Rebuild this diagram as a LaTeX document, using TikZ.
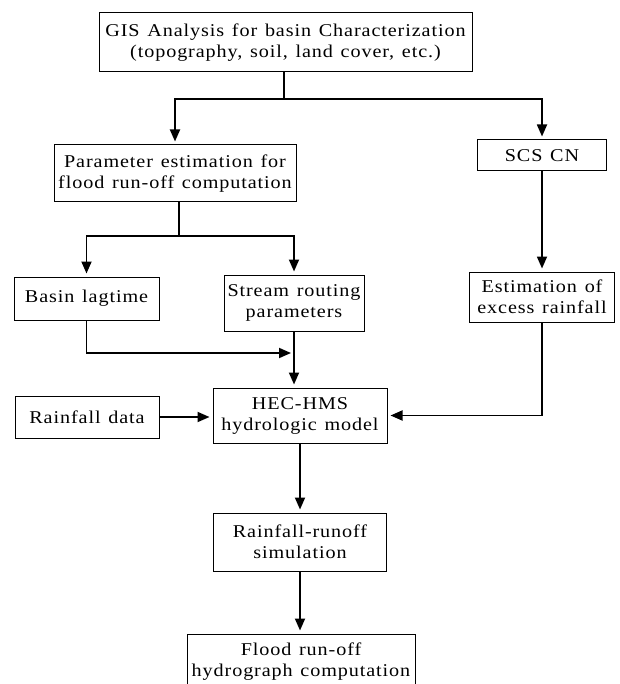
\documentclass[tikz,border=0pt]{standalone}
\usepackage{fontspec}
\setmainfont{Liberation Serif}[FakeStretch=1.12, LetterSpace=5, WordSpace=1.3]
\usetikzlibrary{arrows.meta,calc}
\begin{document}
\begin{tikzpicture}[x=1pt,y=-1pt,
  box/.style={draw, line width=1pt, inner sep=0pt, align=center,
    font=\fontsize{18}{21}\selectfont},
  conn/.style={line width=1.8pt},
  arr/.style={line width=1.8pt, -{Triangle[length=12pt,width=10pt]}, shorten >=3pt}]
\useasboundingbox (0,0) rectangle (619,684);
\node[box, minimum width=373pt, minimum height=59pt] (gis) at (285.5,42.5)
  {GIS Analysis for basin Characterization\\(topography, soil, land cover, etc.)};
\node[box, minimum width=242pt, minimum height=57pt] (param) at (175,173.5)
  {Parameter estimation for\\flood run-off computation};
\node[box, minimum width=129pt, minimum height=31pt] (scs) at (542,155.5) {SCS CN};
\node[box, minimum width=145pt, minimum height=43pt] (basin) at (86.5,298.5) {Basin lagtime};
\node[box, minimum width=140pt, minimum height=56pt] (stream) at (294,303)
  {Stream routing\\parameters};
\node[box, minimum width=145pt, minimum height=50pt] (est) at (542,297)
  {Estimation of\\excess rainfall};
\node[box, minimum width=144pt, minimum height=42pt] (rain) at (87,417) {Rainfall data};
\node[box, minimum width=174pt, minimum height=55pt] (hec) at (300,415.5)
  {HEC-HMS\\hydrologic model};
\node[box, minimum width=173pt, minimum height=58pt] (rr) at (300,542)
  {Rainfall-runoff\\simulation};
\node[box, minimum width=228pt, minimum height=56pt] (flood) at (301,662)
  {Flood run-off\\hydrograph computation};
% connectors
\coordinate (s1) at (284,99);
\draw[conn] (gis.south -| s1) -- (s1);
\draw[arr] (s1) -| (param.north);
\draw[arr] (s1) -| (scs.north);
\coordinate (s2) at (179,236);
\draw[conn] (param.south -| s2) -- (s2);
\draw[arr] (s2) -| (basin.north);
\draw[arr] (s2) -| (stream.north);
\draw[arr] (scs.south) -- (est.north);
\coordinate (m1) at (294,353);
\draw[arr] (basin.south) |- (m1);
\draw[arr] (stream.south) -- (stream.south |- hec.north);
\draw[arr] (rain.east) -- (rain.east -| hec.west);
\draw[arr] (est.south) |- (hec.east);
\draw[arr] (hec.south) -- (rr.north);
\draw[arr] (rr.south) -- (rr.south |- flood.north);
\end{tikzpicture}
\end{document}
